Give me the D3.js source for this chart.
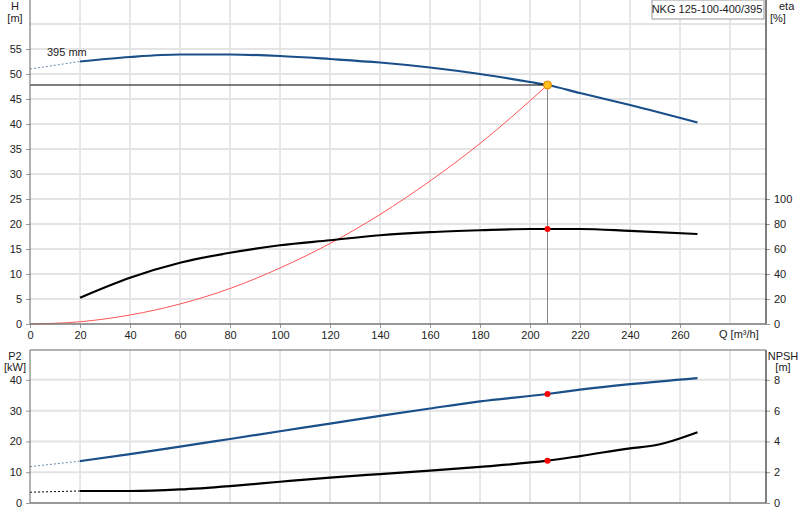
<!DOCTYPE html>
<html><head><meta charset="utf-8">
<script src="https://cdn.jsdelivr.net/npm/d3@7/dist/d3.min.js"></script>
<style>body{margin:0;background:#fff}text{font-family:"Liberation Sans",Arial,sans-serif;font-size:11px;fill:#222}</style>
</head><body><svg id="c" width="800" height="520"></svg>
<script>
var headQ = [20,40,60,80,100,120,140,160,180,200,207,220,240,267];
var headH = [52.5,53.4,53.9,53.9,53.6,53.0,52.3,51.3,50.0,48.4,47.8,46.2,43.8,40.3];
var headDashQ = [0,20], headDashH = [51,52.5];
var etaQ = [20,40,60,80,100,120,140,160,180,200,207,220,240,267];
var etaV = [21,37,49,57,63,67,71,73.5,75,76,76,76,74.5,72];
var sysQ = [0,20,40,60,80,100,120,140,160,180,207];
var sysH = [0,0.45,1.8,4.0,7.1,11.2,16.1,21.9,28.6,36.1,47.8];
var p2Q = [20,40,60,80,100,120,140,160,180,207,220,240,267];
var p2V = [13.6,15.9,18.3,20.8,23.3,25.8,28.3,30.7,33,35.4,36.8,38.6,40.6];
var p2DashQ = [0,20], p2DashV = [11.8,13.6];
var npQ = [20,40,60,80,100,120,140,160,180,207,220,240,250,267];
var npV = [0.78,0.78,0.88,1.1,1.38,1.65,1.88,2.1,2.35,2.75,3.05,3.55,3.75,4.6];
var npDashQ = [0,20], npDashV = [0.7,0.78];
var duty = {q:207, h:47.8, eta:76, p2:35.4, npsh:2.75};
var hTicks = [0,5,10,15,20,25,30,35,40,45,50,55];
var etaTicks = [0,20,40,60,80,100];
var qTicks = d3.range(0,261,20);
var p2Ticks = [0,10,20,30,40];
var npTicks = [0,2,4,6,8];

var svg = d3.select("#c");
var L = 30, R = 766;
var x = d3.scaleLinear().domain([0,294.4]).range([L,R]);
var yH = d3.scaleLinear().domain([0,64.8]).range([324,0]);
var yE = d3.scaleLinear().domain([0,259.2]).range([324,0]);
var yP = d3.scaleLinear().domain([0,49.7]).range([503,350]);
var yN = d3.scaleLinear().domain([0,9.94]).range([503,350]);
var blue = "#1a4f8a";

function grid(y0, y1, yScale, yt){
  var g = svg.append("g");
  g.selectAll(".v").data(d3.range(20,295,20)).enter().append("line")
    .attr("x1",d=>x(d)).attr("x2",d=>x(d)).attr("y1",y0).attr("y2",y1)
    .attr("stroke","#d0d0d0").attr("stroke-width",1);
  g.selectAll(".h").data(yt).enter().append("line")
    .attr("x1",L).attr("x2",R).attr("y1",d=>yScale(d)).attr("y2",d=>yScale(d))
    .attr("stroke","#e4e4e4").attr("stroke-width",2);
}
grid(0,324,yH,d3.range(5,65,5));
grid(350,503,yP,[10,20,30,40]);

function line(xs, ys, ysc){
  return d3.line().x((d,i)=>x(xs[i])).y((d,i)=>ysc(ys[i])).curve(d3.curveMonotoneX)(xs);
}
function path(xs, ys, ysc, col, w, dash){
  svg.append("path").attr("d",line(xs,ys,ysc)).attr("fill","none")
    .attr("stroke",col).attr("stroke-width",w).attr("stroke-dasharray",dash||null);
}
// top plot
path(sysQ,sysH,yH,"#ff5555",1);
path(headDashQ,headDashH,yH,"#6a8ab0",1,"2,2");
path(headQ,headH,yH,blue,2.2);
path(etaQ,etaV,yE,"#000",2.2);
svg.append("line").attr("x1",L).attr("x2",x(duty.q)).attr("y1",yH(duty.h)).attr("y2",yH(duty.h)).attr("stroke","#000");
svg.append("line").attr("x1",x(duty.q)).attr("x2",x(duty.q)).attr("y1",yH(duty.h)).attr("y2",324).attr("stroke","#888");
svg.append("circle").attr("cx",x(duty.q)).attr("cy",yH(duty.h)).attr("r",4).attr("fill","#ffc020").attr("stroke","#e08000");
svg.append("circle").attr("cx",x(duty.q)).attr("cy",yE(duty.eta)).attr("r",3).attr("fill","#ff0000");
svg.append("text").attr("x",47).attr("y",56).text("395 mm");
// bottom plot
path(p2DashQ,p2DashV,yP,"#6a8ab0",1,"2,2");
path(p2Q,p2V,yP,blue,2.2);
path(npDashQ,npDashV,yN,"#000",1,"2,2");
path(npQ,npV,yN,"#000",2.2);
svg.append("circle").attr("cx",x(duty.q)).attr("cy",yP(duty.p2)).attr("r",3).attr("fill","#ff0000");
svg.append("circle").attr("cx",x(duty.q)).attr("cy",yN(duty.npsh)).attr("r",3).attr("fill","#ff0000");

// axes
function axes(yTop, yBot, yl, lt, yr, rt, xlabels){
  svg.append("g").attr("transform","translate("+L+",0)")
    .call(d3.axisLeft(yl).tickValues(lt).tickSize(4).tickPadding(4))
    .call(g=>{g.select(".domain").remove();g.selectAll("line").attr("stroke","#999");});
  svg.append("g").attr("transform","translate("+R+",0)")
    .call(d3.axisRight(yr).tickValues(rt).tickSize(4).tickPadding(4))
    .call(g=>{g.select(".domain").remove();g.selectAll("line").attr("stroke","#999");});
  var xa = svg.append("g").attr("transform","translate(0,"+yBot+")")
    .call(d3.axisBottom(x).tickValues(xlabels?qTicks:[]).tickSize(4).tickPadding(3))
    .call(g=>{g.select(".domain").remove();g.selectAll("line").attr("stroke","#999");});
  svg.append("line").attr("x1",L).attr("x2",L).attr("y1",yTop).attr("y2",yBot).attr("stroke","#666");
  svg.append("line").attr("x1",R).attr("x2",R).attr("y1",yTop).attr("y2",yBot).attr("stroke","#000");
  svg.append("line").attr("x1",L).attr("x2",R).attr("y1",yBot).attr("y2",yBot).attr("stroke","#777").attr("stroke-width",1.5);
  if(yTop>0) svg.append("line").attr("x1",L).attr("x2",R).attr("y1",yTop).attr("y2",yTop).attr("stroke","#666");
  svg.selectAll("g.tick text").style("font-size","11px");
}
axes(0,324,yH,hTicks,yE,etaTicks,true);
axes(350,503,yP,p2Ticks,yN,npTicks,false);
svg.selectAll("text").attr("fill","#222");

function lab(xp,yp,t,anchor){svg.append("text").attr("x",xp).attr("y",yp).attr("text-anchor",anchor||"middle").text(t);}
lab(15,10,"H");lab(15,22,"[m]");
lab(779,10,"eta","start");lab(770,22,"[%]","start");
lab(719,338,"Q [m³/h]","start");
lab(15,360,"P2");lab(15,371,"[kW]");
lab(783,360,"NPSH");lab(783,371,"[m]");
svg.append("rect").attr("x",652).attr("y",0).attr("width",112).attr("height",19).attr("fill","#fff").attr("stroke","#999");
lab(707,13,"NKG 125-100-400/395");
</script></body></html>
